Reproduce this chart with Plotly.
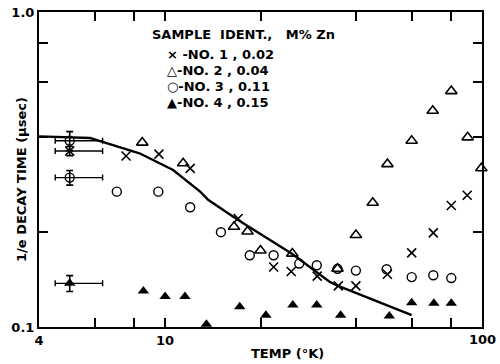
import plotly.graph_objects as go

# ---------------- data ----------------
# Sample No.1, 0.02 M% Zn  (x)
s1_T = [7.53, 9.56, 12.0, 17.0, 22.0, 25.0, 30.2, 35.2, 40.0, 50.3, 60.0, 70.2, 80.0, 89.8]
s1_tau = [0.349, 0.354, 0.319, 0.221, 0.155, 0.150, 0.145, 0.135, 0.135, 0.147, 0.172, 0.199, 0.243, 0.262]

# Sample No.2, 0.04 M% Zn  (open triangle)
s2_T = [8.47, 11.4, 16.5, 18.2, 20.0, 25.2, 35.0, 40.0, 45.2, 50.3, 60.0, 69.9, 80.0, 90.1, 99.5]
s2_tau = [0.385, 0.331, 0.208, 0.201, 0.175, 0.171, 0.153, 0.196, 0.248, 0.329, 0.390, 0.486, 0.561, 0.400, 0.319]

# Sample No.3, 0.11 M% Zn  (open circle)
s3_T = [7.04, 9.52, 12.0, 15.0, 18.5, 22.0, 26.5, 30.1, 35.0, 40.0, 50.0, 60.0, 70.2, 80.0]
s3_tau = [0.269, 0.269, 0.240, 0.200, 0.169, 0.169, 0.159, 0.157, 0.153, 0.151, 0.1525, 0.144, 0.146, 0.143]

# Sample No.4, 0.15 M% Zn  (filled triangle)
s4_T = [8.54, 10.0, 11.55, 13.5, 17.2, 20.8, 25.3, 30.1, 35.8, 51.0, 60.0, 70.5, 80.0]
s4_tau = [0.130, 0.125, 0.125, 0.102, 0.116, 0.109, 0.1175, 0.1175, 0.109, 0.1084, 0.1194, 0.119, 0.119]

# 5 K points with error bars: sample 1 (x), upper circle, sample 3 (circle), sample 4 (filled)
ref_T = [5.0, 5.0, 5.0, 5.0]
ref_tau = [0.362, 0.390, 0.298, 0.1376]
ref_tau_err = [0.012, 0.027, 0.016, 0.008]
ref_T_minus = [0.5, 0.5, 0.5, 0.5]
ref_T_plus = [1.35, 1.35, 1.35, 1.35]

# Theoretical curve
curve_T = [4.0, 5.0, 5.8, 6.2, 8.3, 10.6, 12.9, 13.7, 17.0, 25.2, 33.1, 35.0, 60.0]
curve_tau = [0.403, 0.401, 0.398, 0.390, 0.356, 0.315, 0.269, 0.253, 0.2186, 0.1705, 0.139, 0.1354, 0.109]

# Axis ticks
x_tickvals = [4, 6, 8, 10, 20, 40, 60, 80, 100]
x_ticktext = ["4", "", "", "10", "", "", "", "", ""]
y_tickvals = [0.1, 0.2, 0.4, 0.6, 0.8, 1.0]
y_ticktext = ["0.1", "", "", "", "", "1.0"]
x_end_label = "100"

legend_title = "SAMPLE  IDENT.,   M% Zn"
legend_lines = ["× -NO. 1 , 0.02", "△-NO. 2 , 0.04", "○-NO. 3 , 0.11", "▲-NO. 4 , 0.15"]

# ---------------- figure ----------------
FONT = "DejaVu Sans"
fig = go.Figure()

fig.add_trace(go.Scatter(x=curve_T, y=curve_tau, mode="lines",
                         line=dict(color="black", width=2.4), hoverinfo="skip"))

sym = dict(
    s1=dict(symbol="x-thin-open", size=9, line=dict(color="black", width=1.6), color="black"),
    s2=dict(symbol="triangle-up-open", size=10, line=dict(color="black", width=1.6), color="black"),
    s3=dict(symbol="circle-open", size=9, line=dict(color="black", width=1.4), color="black"),
    s4=dict(symbol="triangle-up", size=10, line=dict(color="black", width=0), color="black"),
)

for T, tau, key in [(s1_T, s1_tau, "s1"), (s2_T, s2_tau, "s2"), (s3_T, s3_tau, "s3"), (s4_T, s4_tau, "s4")]:
    fig.add_trace(go.Scatter(x=T, y=tau, mode="markers", marker=sym[key], cliponaxis=False))

ref_keys = ["s1", "s3", "s3", "s4"]
for i, key in enumerate(ref_keys):
    fig.add_trace(go.Scatter(
        x=[ref_T[i]], y=[ref_tau[i]], mode="markers", marker=sym[key], cliponaxis=False,
        error_x=dict(type="data", symmetric=False, array=[ref_T_plus[i]], arrayminus=[ref_T_minus[i]],
                     color="black", thickness=1.4, width=3),
        error_y=dict(type="data", array=[ref_tau_err[i]], color="black", thickness=1.6, width=3.5),
    ))

bold13 = dict(family=FONT, size=13, color="black", weight="bold")
annos = []
annos.append(dict(text=legend_title, x=(150 - 39) / 443, y=(327 - 35) / 315, xref="paper", yref="paper",
                  xanchor="left", yanchor="middle", showarrow=False, font=bold13))
ys_px = [54.5, 70.5, 86.5, 102.5]
for t, py in zip(legend_lines, ys_px):
    annos.append(dict(text=t, x=(165 - 39) / 443, y=(327 - py) / 315, xref="paper", yref="paper",
                      xanchor="left", yanchor="middle", showarrow=False, font=bold13))
annos.append(dict(text="TEMP (°K)", x=(287 - 39) / 443, y=(327 - 353) / 315, xref="paper", yref="paper",
                  xanchor="center", yanchor="middle", showarrow=False, font=bold13))
annos.append(dict(text="1/e DECAY TIME (μsec)", x=(21 - 39) / 443, y=(327 - 180) / 315,
                  xref="paper", yref="paper", textangle=-90,
                  xanchor="center", yanchor="middle", showarrow=False, font=bold13))
annos.append(dict(text=x_end_label, x=(498 - 39) / 443, y=(327 - 339) / 315, xref="paper", yref="paper",
                  xanchor="right", yanchor="middle", showarrow=False, font=bold13))

axis_common = dict(showline=True, linecolor="black", linewidth=2, mirror="ticks",
                   ticks="inside", ticklen=9, tickwidth=2, tickcolor="black",
                   showgrid=False, zeroline=False, automargin=False,
                   tickfont=dict(family=FONT, size=13, color="black", weight="bold"))

fig.update_layout(
    width=500, height=364,
    margin=dict(l=39, r=18, t=12, b=37, pad=0, autoexpand=False),
    paper_bgcolor="white", plot_bgcolor="white",
    showlegend=False,
    xaxis=dict(type="log", range=[0.60206, 2.0], tickvals=x_tickvals, ticktext=x_ticktext, **axis_common),
    yaxis=dict(type="log", range=[-1.0, 0.0], tickvals=y_tickvals, ticktext=y_ticktext, **axis_common),
    annotations=annos,
)

fig.write_html("out.html")
